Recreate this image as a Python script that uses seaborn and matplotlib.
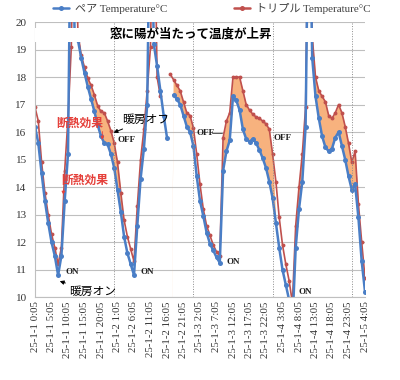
import numpy as np
import pandas as pd
import matplotlib
matplotlib.use("Agg")
import matplotlib.pyplot as plt
from matplotlib.lines import Line2D
from matplotlib.font_manager import FontProperties
import seaborn as sns

NAN = np.nan

# hourly samples, hour 0 = 25-1-1 0:05
HOURS = list(range(101))
PAIR_TEMP = [
    16.2, 15.6, 14.5, 13.5, 12.7, 12.0, 11.5, 10.8, 11.5, 13.5,
    15.2, 26.0, 19.6, 19.35, 18.7, 18.15, 17.65, 17.2, 16.75, 16.25,
    15.85, 15.6, 15.55, 15.2, 14.7, 13.9, 13.1, 12.2, 11.6, 11.2,
    10.8, 12.6, 14.3, 15.4, 17.0, 26.0, 19.2, 18.4, 17.5, 16.6,
    15.8, NAN, 17.35, 17.2, 17.0, 16.6, 16.2, 16.0, 15.5, 14.4,
    13.5, 12.95, 12.35, 11.95, 11.7, 11.45, 11.25, 14.6, 15.3, 15.7,
    17.3, 17.15, 16.8, 16.1, 15.75, 15.65, 15.75, 15.6, 15.35, 15.05,
    14.7, 14.2, 13.6, 12.7, 11.8, 11.0, 10.45, 9.9, 9.0, 11.8,
    13.2, 14.2, 16.2, 26.0, 18.7, 17.3, 16.5, 15.85, 15.45, 15.3,
    15.4, 15.8, 16.0, 15.5, 15.0, 14.4, 13.9, 14.1, 12.9, 11.3,
    10.2,
]
TRIPLE_TEMP = [
    16.9, 16.4, 14.9, 13.8, 13.0, 12.3, 11.8, 11.2, 11.8, 14.6,
    16.5, 19.1, 26.0, 19.6, 18.8, 18.35, 17.95, 17.7, 17.35, 16.95,
    16.75, 16.7, 16.4, 16.05, 15.6, 14.9, 13.8, 12.8, 12.2, 11.75,
    11.3, 13.3, 15.0, 16.1, 17.5, 19.1, 26.0, 18.0, 17.3, NAN,
    NAN, 18.1, 17.9, 17.7, 17.5, 17.1, 16.7, 16.6, 16.15, 15.2,
    14.1, 13.2, 12.6, 12.25, 11.9, 11.65, 11.5, 15.8, 16.4, 16.7,
    18.0, 18.0, 18.0, 17.5, 17.0, 16.8, 16.65, 16.55, 16.5, 16.4,
    16.3, 16.1, 15.2, 14.2, 12.9, 11.9, 11.2, 10.6, 9.8, 12.6,
    14.0, 15.2, 16.9, 26.0, 19.5, 18.0, 17.5, 17.3, 17.1, 16.6,
    16.5, 16.7, 17.0, 16.7, 16.2, 15.6, 14.9, 15.3, 13.4, 12.0,
    10.7,
]
TICK_HOURS = list(range(0, 101, 5))
TICK_LABELS = [
    "25-1-1 0:05", "25-1-1 5:05", "25-1-1 10:05", "25-1-1 15:05", "25-1-1 20:05",
    "25-1-2 1:05", "25-1-2 6:05", "25-1-2 11:05", "25-1-2 16:05", "25-1-2 21:05",
    "25-1-3 2:05", "25-1-3 7:05", "25-1-3 12:05", "25-1-3 17:05", "25-1-3 22:05",
    "25-1-4 3:05", "25-1-4 8:05", "25-1-4 13:05", "25-1-4 18:05", "25-1-4 23:05",
    "25-1-5 4:05",
]
DAY_BREAKS = [24, 48, 72, 96]
FILL_SPANS = [(13, 26), (30, 34), (41, 48), (57, 72), (79, 82), (84, 98)]
ON_MARKS = [(9.1, 10.93), (32.0, 10.9), (57.9, 11.26), (79.9, 10.2)]
OFF_MARKS = [(25.0, 15.73), (48.8, 15.98), (72.3, 15.77)]

BLUE = "#4A7EC6"
RED = "#C0504D"
FILL = "#F7B27E"
LBL_RED = "#E5403A"

SERIF_JP = ["Liberation Serif", "Noto Sans CJK JP"]


def to_long(values):
    df = pd.DataFrame({"hour": HOURS, "temp": values})
    df["seg"] = df["temp"].isna().cumsum()
    return df.dropna()


sns.set_theme(style="white")
plt.rcParams["font.family"] = SERIF_JP

fig = plt.figure(figsize=(4, 3.8), dpi=100)
ax = fig.add_axes([0.0875, 0.218, 0.825, 0.724])

# insulation gap
h = np.array(HOURS, dtype=float)
blue = np.array(PAIR_TEMP, dtype=float)
red = np.array(TRIPLE_TEMP, dtype=float)
valid = ~np.isnan(blue) & ~np.isnan(red)
for a, b in FILL_SPANS:
    mask = valid & (h >= a) & (h <= b) & (red >= blue)
    ax.fill_between(h, np.where(valid, blue, 0), np.where(valid, red, 0),
                    where=mask, interpolate=True, color=FILL, lw=0, zorder=1.5)

sns.lineplot(data=to_long(TRIPLE_TEMP), x="hour", y="temp", units="seg", estimator=None,
             sort=False, color=RED, lw=1.2, marker="o", markersize=2.8,
             markeredgewidth=0, legend=False, ax=ax, zorder=2.2)
sns.lineplot(data=to_long(PAIR_TEMP), x="hour", y="temp", units="seg", estimator=None,
             sort=False, color=BLUE, lw=1.8, marker="o", markersize=3.6,
             markeredgewidth=0, legend=False, ax=ax, zorder=2.4)

# white strip behind the headline text
ax.axhspan(19.28, 19.8, color="white", lw=0, zorder=3)
for d in DAY_BREAKS:
    ax.axvline(d, color="#8C8C8C", lw=0.7, ls=(0, (1, 1.6)), zorder=3.5)

ax.set_xlim(0, 100)
ax.set_ylim(10, 20)
ax.set_yticks(range(10, 21))
ax.set_xticks(TICK_HOURS)
ax.set_xticklabels(TICK_LABELS, rotation=90, fontsize=7.8, color="#333333")
ax.tick_params(axis="y", labelsize=8, labelcolor="#333333", length=0, pad=6)
ax.tick_params(axis="x", length=0, pad=3)
ax.yaxis.grid(True, color="#BFBFBF", lw=0.8)
ax.xaxis.grid(False)
ax.set_axisbelow(True)
ax.set_xlabel("")
ax.set_ylabel("")
for side in ["top", "right"]:
    ax.spines[side].set_visible(False)
for side in ["left", "bottom"]:
    ax.spines[side].set_color("#BFBFBF")
    ax.spines[side].set_linewidth(0.8)

# annotations
ax.text(47.3, 19.56, "窓に陽が当たって温度が上昇", ha="center", va="center",
        fontsize=9, fontweight="bold", color="black", zorder=5, family=SERIF_JP)
ax.text(13.5, 16.3, "断熱効果", ha="center", va="center", fontsize=8.5,
        fontweight="bold", color=LBL_RED, zorder=5, family=SERIF_JP)
ax.text(15.2, 14.24, "断熱効果", ha="center", va="center", fontsize=8.5,
        fontweight="bold", color=LBL_RED, zorder=5, family=SERIF_JP)
ax.annotate("", xy=(20.4, 15.62), xytext=(20.4, 16.12),
            arrowprops=dict(arrowstyle="-|>", color=LBL_RED, lw=0.6, mutation_scale=5), zorder=5)
ax.annotate("", xy=(8.6, 13.62), xytext=(8.6, 14.02),
            arrowprops=dict(arrowstyle="-|>", color=LBL_RED, lw=0.6, mutation_scale=5), zorder=5)
ax.annotate("暖房オフ", xy=(23.8, 15.98), xytext=(26.4, 16.45), ha="left", va="center",
            fontsize=8.5, color="black", family=SERIF_JP, zorder=5,
            arrowprops=dict(arrowstyle="-|>", color="black", lw=0.7, mutation_scale=6,
                            shrinkA=0, shrinkB=0))
ax.annotate("暖房オン", xy=(7.5, 10.58), xytext=(10.2, 10.2), ha="left", va="center",
            fontsize=8.5, color="black", family=SERIF_JP, zorder=5,
            arrowprops=dict(arrowstyle="-|>", color="black", lw=0.7, mutation_scale=6,
                            shrinkA=0, shrinkB=0))
for x, y in ON_MARKS:
    ax.text(x, y, "ON", ha="left", va="center", fontsize=6.5, fontweight="bold",
            color="#202020", zorder=5, family=SERIF_JP)
for x, y in OFF_MARKS:
    ax.text(x, y, "OFF", ha="left", va="center", fontsize=6.5, fontweight="bold",
            color="#202020", zorder=5, family=SERIF_JP)
ax.plot([53.6, 56.8], [15.98, 15.98], color="#404040", lw=0.6, zorder=5)

handles = [
    Line2D([], [], color=BLUE, lw=1.8, marker="o", markersize=3.6, markeredgewidth=0),
    Line2D([], [], color=RED, lw=1.8, marker="o", markersize=3.6, markeredgewidth=0),
]
fig.legend(handles, ["ペア Temperature°C", "トリプル Temperature°C"],
           loc="center", bbox_to_anchor=(0.53, 0.978), ncol=2, frameon=False,
           prop=FontProperties(family=SERIF_JP, size=8), handlelength=1.4,
           columnspacing=6.0, handletextpad=0.6, labelcolor="#404040")

fig.savefig("out.png", dpi=100)
